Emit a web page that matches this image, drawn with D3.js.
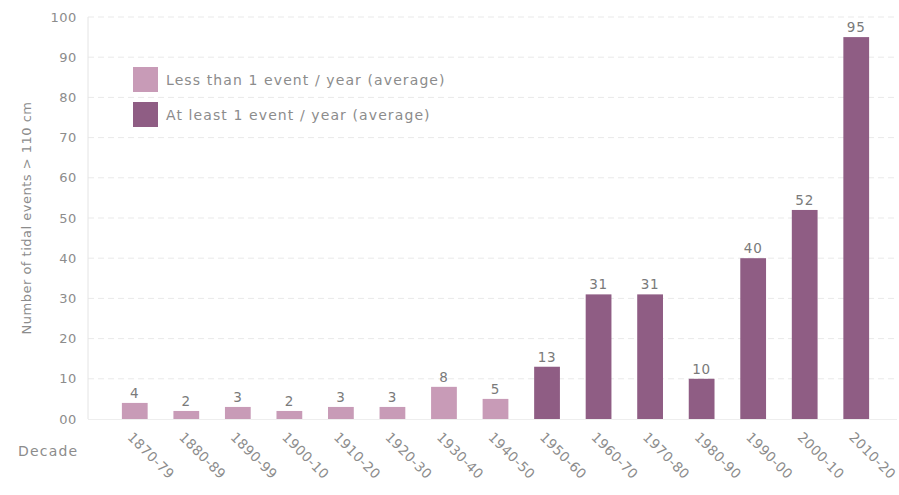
<!DOCTYPE html>
<html>
<head>
<meta charset="utf-8">
<script src="https://cdn.jsdelivr.net/npm/d3@7"></script>
<style>
  html, body { margin: 0; padding: 0; background: #fff; }
  svg { display: block; }
  text { font-family: "DejaVu Sans", "Roboto", sans-serif; }
</style>
</head>
<body>
<svg id="chart" width="899" height="495"></svg>
<script>
// Tidal events above 110 cm per decade
const decades = ["1870-79","1880-89","1890-99","1900-10","1910-20","1920-30","1930-40","1940-50",
                 "1950-60","1960-70","1970-80","1980-90","1990-00","2000-10","2010-20"];
const events = [4, 2, 3, 2, 3, 3, 8, 5, 13, 31, 31, 10, 40, 52, 95];
// 0 = less than 1 event / year, 1 = at least 1 event / year
const frequencyClass = [0, 0, 0, 0, 0, 0, 0, 0, 1, 1, 1, 1, 1, 1, 1];
const classLabels = ["Less than 1 event / year (average)", "At least 1 event / year (average)"];
const yTicks = [0, 10, 20, 30, 40, 50, 60, 70, 80, 90, 100];
const yTickLabels = ["00", "10", "20", "30", "40", "50", "60", "70", "80", "90", "100"];

const colors = ["#c89bb7", "#8f5d84"];
const grey = "#8c8c8c";

const svg = d3.select("#chart");

const x = d3.scaleBand()
  .domain(decades)
  .range([109, 882])
  .paddingInner(0.5)
  .paddingOuter(0.25);

const y = d3.scaleLinear()
  .domain([0, 100])
  .range([419, 17]);

const plotLeft = 88, plotRight = 897;

// gridlines
svg.append("g")
  .selectAll("line")
  .data(yTicks.slice(1))
  .join("line")
  .attr("x1", plotLeft).attr("x2", plotRight)
  .attr("y1", d => y(d)).attr("y2", d => y(d))
  .attr("stroke", "#e9e9e9")
  .attr("stroke-dasharray", "6,4")
  .attr("stroke-width", 1);

// axis lines
svg.append("line")
  .attr("x1", plotLeft).attr("x2", plotLeft)
  .attr("y1", y(100)).attr("y2", y(0))
  .attr("stroke", "#e4e4e4");
svg.append("line")
  .attr("x1", plotLeft).attr("x2", plotRight)
  .attr("y1", y(0) + 0.5).attr("y2", y(0) + 0.5)
  .attr("stroke", "#eeeeee");

// y axis tick labels
const yAxis = d3.axisLeft(y)
  .tickValues(yTicks)
  .tickFormat((d, i) => yTickLabels[i])
  .tickSize(0)
  .tickPadding(11);
const yg = svg.append("g")
  .attr("transform", `translate(${plotLeft},0)`)
  .call(yAxis);
yg.select(".domain").remove();
yg.selectAll("text")
  .attr("fill", grey)
  .attr("font-size", 13)
  .attr("letter-spacing", 0.6);

// y axis title
svg.append("text")
  .attr("transform", `translate(31,${y(50)}) rotate(-90)`)
  .attr("text-anchor", "middle")
  .attr("fill", grey)
  .attr("font-size", 13)
  .attr("letter-spacing", 0.5)
  .text("Number of tidal events > 110 cm");

// bars
svg.append("g")
  .selectAll("rect")
  .data(decades)
  .join("rect")
  .attr("x", d => x(d))
  .attr("width", x.bandwidth())
  .attr("y", (d, i) => y(events[i]))
  .attr("height", (d, i) => y(0) - y(events[i]))
  .attr("fill", (d, i) => colors[frequencyClass[i]]);

// value labels
svg.append("g")
  .selectAll("text")
  .data(decades)
  .join("text")
  .attr("x", d => x(d) + x.bandwidth() / 2)
  .attr("y", (d, i) => y(events[i]) - 5)
  .attr("text-anchor", "middle")
  .attr("fill", "#7a7a7a")
  .attr("font-size", 13.5)
  .attr("letter-spacing", 0.8)
  .text((d, i) => events[i]);

// x axis labels (rotated)
const xAxis = d3.axisBottom(x).tickSize(0).tickPadding(0);
const xg = svg.append("g")
  .attr("transform", `translate(0,${y(0)})`)
  .call(xAxis);
xg.select(".domain").remove();
xg.selectAll("text")
  .attr("fill", grey)
  .attr("font-size", 13.5)
  .attr("letter-spacing", 0.4)
  .attr("text-anchor", "start")
  .attr("dy", null)
  .attr("y", 0)
  .attr("transform", "translate(-8,19) rotate(45)");

// x axis title
svg.append("text")
  .attr("x", 18)
  .attr("y", 456)
  .attr("fill", grey)
  .attr("font-size", 14)
  .attr("letter-spacing", 1.2)
  .text("Decade");

// legend
const legend = svg.append("g").attr("transform", "translate(133,67)");
classLabels.forEach((label, i) => {
  const g = legend.append("g").attr("transform", `translate(0,${i * 35})`);
  g.append("rect")
    .attr("width", 25).attr("height", 25)
    .attr("fill", colors[i]);
  g.append("text")
    .attr("x", 33).attr("y", 18)
    .attr("fill", grey)
    .attr("font-size", 14)
    .attr("letter-spacing", 1.1)
    .text(label);
});
</script>
</body>
</html>
